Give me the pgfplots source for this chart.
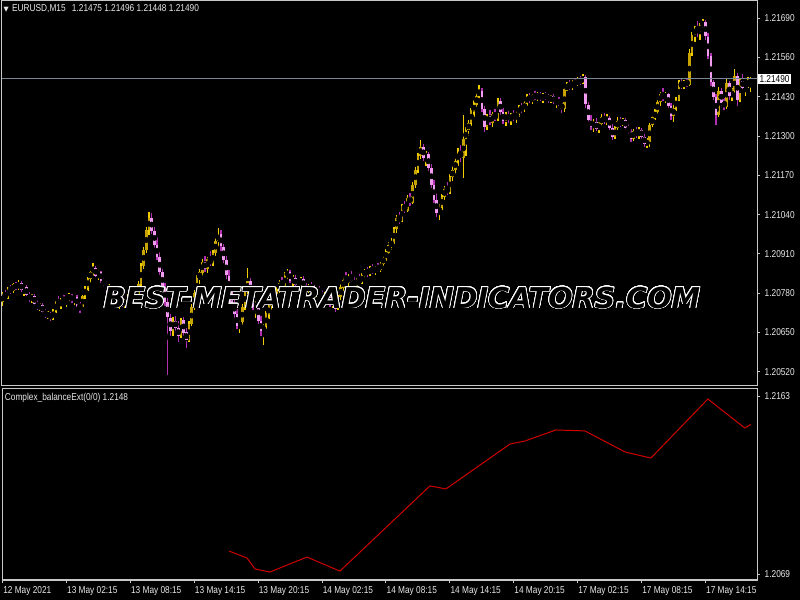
\documentclass[border=0pt]{standalone}
\usepackage{pgfplots}
\pgfplotsset{compat=1.18}
\usepackage{pgfplotstable}
\usepackage{fontspec}
\setmainfont{Liberation Sans}[FakeStretch=0.83]
\newfontfamily\wmfont{DejaVu Sans}
\newfontfamily\symfont{DejaVu Sans}
\usepackage[copies]{contour}
\contourlength{0.55pt}
\contournumber{32}
\definecolor{bullwick}{HTML}{F0CC00}
\definecolor{bulledge}{HTML}{C8A400}
\definecolor{bearwick}{HTML}{B030B0}
\definecolor{bearbody}{HTML}{F09AF0}
\definecolor{frame}{HTML}{C8C8C8}
\definecolor{txt}{HTML}{E8E8E8}
\definecolor{pline}{HTML}{7A8896}
\definecolor{ind}{HTML}{D00000}
\pgfplotstableread{
x o h l c
0 1.20752 1.20785 1.20740 1.20775
1 1.20775 1.20790 1.20760 1.20768
2 1.20768 1.20800 1.20762 1.20795
3 1.20795 1.20808 1.20780 1.20788
4 1.20788 1.20815 1.20782 1.20810
5 1.20810 1.20818 1.20792 1.20798
6 1.20798 1.20825 1.20790 1.20815
7 1.20815 1.20822 1.20785 1.20790
8 1.20790 1.20805 1.20772 1.20800
9 1.20800 1.20808 1.20770 1.20775
10 1.20775 1.20785 1.20752 1.20760
11 1.20760 1.20780 1.20750 1.20772
12 1.20772 1.20778 1.20738 1.20745
13 1.20745 1.20760 1.20725 1.20732
14 1.20732 1.20750 1.20722 1.20742
15 1.20742 1.20748 1.20712 1.20718
16 1.20718 1.20730 1.20700 1.20708
17 1.20708 1.20722 1.20695 1.20712
18 1.20712 1.20718 1.20690 1.20700
19 1.20700 1.20728 1.20694 1.20720
20 1.20720 1.20755 1.20715 1.20748
21 1.20748 1.20770 1.20735 1.20742
22 1.20742 1.20765 1.20728 1.20758
23 1.20758 1.20775 1.20745 1.20750
24 1.20750 1.20768 1.20735 1.20762
25 1.20762 1.20782 1.20755 1.20775
26 1.20775 1.20780 1.20748 1.20755
27 1.20755 1.20772 1.20742 1.20768
28 1.20768 1.20775 1.20735 1.20740
29 1.20740 1.20752 1.20715 1.20735
30 1.20735 1.20775 1.20730 1.20770
31 1.20770 1.20805 1.20762 1.20798
32 1.20798 1.20835 1.20790 1.20828
33 1.20828 1.20862 1.20815 1.20850
34 1.20850 1.20880 1.20838 1.20865
35 1.20865 1.20872 1.20835 1.20840
36 1.20840 1.20858 1.20825 1.20850
37 1.20850 1.20855 1.20815 1.20822
38 1.20822 1.20838 1.20800 1.20810
39 1.20810 1.20820 1.20785 1.20795
40 1.20795 1.20812 1.20780 1.20800
41 1.20800 1.20805 1.20765 1.20770
42 1.20770 1.20785 1.20752 1.20760
43 1.20760 1.20778 1.20740 1.20748
44 1.20748 1.20765 1.20728 1.20755
45 1.20755 1.20770 1.20735 1.20740
46 1.20740 1.20762 1.20730 1.20752
47 1.20752 1.20778 1.20745 1.20770
48 1.20770 1.20785 1.20752 1.20760
49 1.20760 1.20790 1.20755 1.20782
50 1.20782 1.20795 1.20765 1.20772
51 1.20772 1.20820 1.20768 1.20812
52 1.20812 1.20880 1.20805 1.20870
53 1.20870 1.20935 1.20860 1.20925
54 1.20925 1.21000 1.20915 1.20990
55 1.20990 1.21050 1.20975 1.21030
56 1.21030 1.21045 1.20975 1.20985
57 1.20985 1.21000 1.20930 1.20940
58 1.20940 1.20965 1.20890 1.20900
59 1.20900 1.20918 1.20840 1.20850
60 1.20850 1.20862 1.20790 1.20800
61 1.20800 1.20815 1.20740 1.20752
62 1.20752 1.20765 1.20509 1.20700
63 1.20700 1.20712 1.20640 1.20655
64 1.20655 1.20700 1.20640 1.20690
65 1.20690 1.20705 1.20650 1.20665
66 1.20665 1.20690 1.20620 1.20640
67 1.20640 1.20700 1.20632 1.20690
68 1.20690 1.20702 1.20640 1.20650
69 1.20650 1.20665 1.20600 1.20625
70 1.20625 1.20690 1.20618 1.20680
71 1.20680 1.20745 1.20672 1.20735
72 1.20735 1.20790 1.20725 1.20780
73 1.20780 1.20840 1.20770 1.20830
74 1.20830 1.20860 1.20810 1.20850
75 1.20850 1.20895 1.20840 1.20885
76 1.20885 1.20905 1.20850 1.20860
77 1.20860 1.20900 1.20848 1.20892
78 1.20892 1.20920 1.20870 1.20880
79 1.20880 1.20925 1.20872 1.20915
80 1.20915 1.20965 1.20905 1.20955
81 1.20955 1.20996 1.20935 1.20975
82 1.20975 1.20990 1.20920 1.20935
83 1.20935 1.20945 1.20880 1.20890
84 1.20890 1.20905 1.20830 1.20840
85 1.20840 1.20858 1.20775 1.20785
86 1.20785 1.20800 1.20735 1.20748
87 1.20748 1.20770 1.20700 1.20712
88 1.20712 1.20728 1.20660 1.20672
89 1.20672 1.20695 1.20648 1.20685
90 1.20685 1.20745 1.20675 1.20735
91 1.20735 1.20800 1.20725 1.20790
92 1.20790 1.20864 1.20780 1.20820
93 1.20820 1.20832 1.20770 1.20778
94 1.20778 1.20792 1.20725 1.20735
95 1.20735 1.20760 1.20700 1.20745
96 1.20745 1.20752 1.20680 1.20690
97 1.20690 1.20705 1.20640 1.20655
98 1.20655 1.20680 1.20609 1.20670
99 1.20670 1.20720 1.20660 1.20710
100 1.20710 1.20745 1.20695 1.20738
101 1.20738 1.20770 1.20725 1.20760
102 1.20760 1.20785 1.20740 1.20750
103 1.20750 1.20800 1.20745 1.20790
104 1.20790 1.20825 1.20780 1.20815
105 1.20815 1.20835 1.20795 1.20805
106 1.20805 1.20850 1.20800 1.20840
107 1.20840 1.20860 1.20825 1.20850
108 1.20850 1.20858 1.20815 1.20822
109 1.20822 1.20840 1.20805 1.20830
110 1.20830 1.20842 1.20800 1.20808
111 1.20808 1.20825 1.20790 1.20815
112 1.20815 1.20835 1.20805 1.20828
113 1.20828 1.20838 1.20795 1.20800
114 1.20800 1.20815 1.20780 1.20788
115 1.20788 1.20812 1.20782 1.20805
116 1.20805 1.20818 1.20785 1.20792
117 1.20792 1.20808 1.20770 1.20775
118 1.20775 1.20798 1.20768 1.20790
119 1.20790 1.20805 1.20775 1.20780
120 1.20780 1.20792 1.20755 1.20762
121 1.20762 1.20785 1.20752 1.20778
122 1.20778 1.20790 1.20760 1.20768
123 1.20768 1.20775 1.20735 1.20742
124 1.20742 1.20765 1.20730 1.20758
125 1.20758 1.20765 1.20720 1.20730
126 1.20730 1.20775 1.20725 1.20768
127 1.20768 1.20810 1.20760 1.20800
128 1.20800 1.20835 1.20790 1.20825
129 1.20825 1.20850 1.20810 1.20815
130 1.20815 1.20845 1.20805 1.20838
131 1.20838 1.20855 1.20815 1.20822
132 1.20822 1.20835 1.20795 1.20805
133 1.20805 1.20830 1.20798 1.20825
134 1.20825 1.20842 1.20812 1.20818
135 1.20818 1.20848 1.20810 1.20840
136 1.20840 1.20862 1.20830 1.20855
137 1.20855 1.20868 1.20835 1.20845
138 1.20845 1.20870 1.20838 1.20862
139 1.20862 1.20878 1.20845 1.20852
140 1.20852 1.20872 1.20842 1.20865
141 1.20865 1.20880 1.20850 1.20858
142 1.20858 1.20885 1.20852 1.20878
143 1.20878 1.20905 1.20870 1.20898
144 1.20898 1.20925 1.20885 1.20915
145 1.20915 1.20950 1.20905 1.20940
146 1.20940 1.20962 1.20925 1.20950
147 1.20950 1.21000 1.20945 1.20992
148 1.20992 1.21040 1.20980 1.21030
149 1.21030 1.21050 1.21010 1.21020
150 1.21020 1.21075 1.21015 1.21068
151 1.21068 1.21085 1.21045 1.21055
152 1.21055 1.21105 1.21050 1.21098
153 1.21098 1.21112 1.21070 1.21080
154 1.21080 1.21150 1.21075 1.21140
155 1.21140 1.21200 1.21130 1.21190
156 1.21190 1.21245 1.21180 1.21235
157 1.21235 1.21287 1.21225 1.21265
158 1.21265 1.21275 1.21220 1.21230
159 1.21230 1.21250 1.21200 1.21240
160 1.21240 1.21248 1.21185 1.21195
161 1.21195 1.21210 1.21130 1.21140
162 1.21140 1.21155 1.21080 1.21090
163 1.21090 1.21112 1.21035 1.21048
164 1.21048 1.21075 1.21023 1.21065
165 1.21065 1.21110 1.21058 1.21100
166 1.21100 1.21135 1.21090 1.21125
167 1.21125 1.21150 1.21105 1.21115
168 1.21115 1.21175 1.21108 1.21165
169 1.21165 1.21200 1.21150 1.21190
170 1.21190 1.21230 1.21175 1.21220
171 1.21220 1.21260 1.21200 1.21245
172 1.21245 1.21270 1.21215 1.21230
173 1.21230 1.21370 1.21162 1.21290
174 1.21290 1.21330 1.21235 1.21320
175 1.21320 1.21355 1.21300 1.21345
176 1.21345 1.21395 1.21335 1.21385
177 1.21385 1.21420 1.21365 1.21405
178 1.21405 1.21445 1.21395 1.21435
179 1.21435 1.21470 1.21420 1.21450
180 1.21450 1.21458 1.21380 1.21390
181 1.21390 1.21400 1.21314 1.21330
182 1.21330 1.21375 1.21320 1.21365
183 1.21365 1.21385 1.21335 1.21345
184 1.21345 1.21380 1.21330 1.21372
185 1.21372 1.21390 1.21350 1.21358
186 1.21358 1.21427 1.21352 1.21415
187 1.21415 1.21425 1.21370 1.21380
188 1.21380 1.21395 1.21340 1.21350
189 1.21350 1.21380 1.21335 1.21372
190 1.21372 1.21385 1.21345 1.21355
191 1.21355 1.21378 1.21338 1.21370
192 1.21370 1.21388 1.21350 1.21360
193 1.21360 1.21385 1.21345 1.21378
194 1.21378 1.21405 1.21365 1.21395
195 1.21395 1.21410 1.21378 1.21388
196 1.21388 1.21418 1.21380 1.21410
197 1.21410 1.21440 1.21400 1.21432
198 1.21432 1.21445 1.21410 1.21418
199 1.21418 1.21440 1.21405 1.21435
200 1.21435 1.21448 1.21420 1.21428
201 1.21428 1.21445 1.21415 1.21438
202 1.21438 1.21446 1.21418 1.21425
203 1.21425 1.21442 1.21412 1.21436
204 1.21436 1.21445 1.21420 1.21430
205 1.21430 1.21440 1.21412 1.21420
206 1.21420 1.21438 1.21410 1.21432
207 1.21432 1.21440 1.21405 1.21412
208 1.21412 1.21428 1.21395 1.21420
209 1.21420 1.21430 1.21400 1.21408
210 1.21408 1.21416 1.21377 1.21390
211 1.21390 1.21463 1.21380 1.21455
212 1.21455 1.21478 1.21448 1.21470
213 1.21470 1.21488 1.21455 1.21462
214 1.21462 1.21485 1.21453 1.21478
215 1.21478 1.21492 1.21465 1.21472
216 1.21472 1.21495 1.21466 1.21488
217 1.21488 1.21500 1.21470 1.21480
218 1.21480 1.21505 1.21474 1.21495
219 1.21495 1.21502 1.21395 1.21405
220 1.21405 1.21412 1.21345 1.21355
221 1.21355 1.21370 1.21320 1.21330
222 1.21330 1.21355 1.21315 1.21345
223 1.21345 1.21360 1.21318 1.21325
224 1.21325 1.21348 1.21312 1.21340
225 1.21340 1.21375 1.21332 1.21365
226 1.21365 1.21378 1.21340 1.21350
227 1.21350 1.21372 1.21338 1.21362
228 1.21362 1.21368 1.21320 1.21328
229 1.21328 1.21340 1.21288 1.21298
230 1.21298 1.21335 1.21292 1.21328
231 1.21328 1.21362 1.21320 1.21350
232 1.21350 1.21365 1.21330 1.21340
233 1.21340 1.21362 1.21335 1.21355
234 1.21355 1.21360 1.21320 1.21328
235 1.21328 1.21345 1.21305 1.21315
236 1.21315 1.21325 1.21282 1.21292
237 1.21292 1.21325 1.21285 1.21318
238 1.21318 1.21332 1.21295 1.21305
239 1.21305 1.21330 1.21290 1.21322
240 1.21322 1.21328 1.21290 1.21298
241 1.21298 1.21310 1.21265 1.21275
242 1.21275 1.21295 1.21262 1.21282
243 1.21282 1.21345 1.21265 1.21338
244 1.21338 1.21372 1.21330 1.21365
245 1.21365 1.21388 1.21352 1.21380
246 1.21380 1.21420 1.21372 1.21412
247 1.21412 1.21445 1.21400 1.21438
248 1.21438 1.21460 1.21415 1.21425
249 1.21425 1.21448 1.21410 1.21440
250 1.21440 1.21445 1.21395 1.21400
251 1.21400 1.21412 1.21355 1.21368
252 1.21368 1.21405 1.21345 1.21395
253 1.21395 1.21430 1.21385 1.21420
254 1.21420 1.21486 1.21415 1.21475
255 1.21475 1.21490 1.21455 1.21465
256 1.21465 1.21488 1.21458 1.21480
257 1.21480 1.21492 1.21462 1.21470
258 1.21470 1.21590 1.21465 1.21575
259 1.21575 1.21645 1.21565 1.21635
260 1.21635 1.21665 1.21612 1.21655
261 1.21655 1.21682 1.21630 1.21645
262 1.21645 1.21675 1.21620 1.21668
263 1.21668 1.21688 1.21650 1.21678
264 1.21678 1.21686 1.21620 1.21630
265 1.21630 1.21640 1.21555 1.21565
266 1.21565 1.21575 1.21465 1.21478
267 1.21478 1.21485 1.21420 1.21430
268 1.21430 1.21440 1.21337 1.21372
269 1.21372 1.21462 1.21365 1.21450
270 1.21450 1.21460 1.21400 1.21410
271 1.21410 1.21428 1.21388 1.21398
272 1.21398 1.21490 1.21392 1.21478
273 1.21478 1.21482 1.21420 1.21432
274 1.21432 1.21460 1.21415 1.21448
275 1.21448 1.21525 1.21440 1.21500
276 1.21500 1.21510 1.21400 1.21420
277 1.21420 1.21490 1.21412 1.21485
278 1.21485 1.21505 1.21455 1.21462
279 1.21462 1.21478 1.21432 1.21470
280 1.21470 1.21495 1.21460 1.21475
281 1.21475 1.21496 1.21448 1.21490
}\candles
\pgfplotsset{
  mt/.style={scale only axis, width=566.25pt, xmin=-0.23, xmax=283.35,
    anchor=south west,
    axis line style={frame, line width=0.75pt},
    tick style={frame, line width=0.75pt},
    tick align=outside, major tick length=2.25pt,
    ytick pos=right, yticklabel pos=right,
    ticklabel style={font=\fontsize{7.5}{8}\selectfont, text=txt},
    /pgf/number format/assume math mode=true,
    scaled y ticks=false, clip mode=individual},
  wick/.style={only marks, mark=none, forget plot,
    error bars/.cd, y dir=both, y explicit, error mark=none,
    error bar style={line width=1.05pt, #1}},
  body/.style={only marks, mark=none, forget plot,
    error bars/.cd, y dir=both, y explicit, error mark=none,
    error bar style={line width=1.95pt, #1}},
}
\begin{document}
\begin{tikzpicture}
\fill[black] (0,0) rectangle (600pt,450pt);
% main price panel
\begin{axis}[mt, at={(1.5pt,160.5pt)}, height=288.75pt,
  ymin=1.20473, ymax=1.21747, xtick=\empty,
  ytick={1.2052,1.2065,1.2078,1.2091,1.2104,1.2117,1.2130,1.2143,1.2156,1.2169},
  yticklabel style={/pgf/number format/.cd, fixed, fixed zerofill, precision=5}]
% bull candles
\addplot[wick=bullwick] table[x=x,
  y expr={\thisrow{c}>=\thisrow{o} ? (\thisrow{h}+\thisrow{l})/2 : nan},
  y error expr={(\thisrow{h}-\thisrow{l})/2}] {\candles};
\addplot[body=bulledge] table[x=x,
  y expr={\thisrow{c}>=\thisrow{o} ? (\thisrow{o}+\thisrow{c})/2 : nan},
  y error expr={max(abs(\thisrow{c}-\thisrow{o})/2,0.00002)}] {\candles};
% bear candles
\addplot[wick=bearwick] table[x=x,
  y expr={\thisrow{c}<\thisrow{o} ? (\thisrow{h}+\thisrow{l})/2 : nan},
  y error expr={(\thisrow{h}-\thisrow{l})/2}] {\candles};
\addplot[body=bearbody] table[x=x,
  y expr={\thisrow{c}<\thisrow{o} ? (\thisrow{o}+\thisrow{c})/2 : nan},
  y error expr={max(abs(\thisrow{c}-\thisrow{o})/2,0.00002)}] {\candles};
% bid line
\addplot[pline, line width=0.75pt, forget plot] coordinates {(-1,1.21490) (290,1.21490)};
\node[anchor=west, fill=white, text=black, inner sep=1.2pt, xshift=0.5pt,
  font=\fontsize{7.5}{8}\selectfont] at ({rel axis cs:1,0} |- {axis cs:0,1.21490}) {1.21490};
\end{axis}
% indicator panel
\begin{axis}[mt, at={(1.5pt,15pt)}, height=143.25pt,
  ymin=1.20660, ymax=1.21667, ytick={1.2069,1.2163},
  yticklabel style={/pgf/number format/.cd, fixed, fixed zerofill, precision=4},
  xtick={0,24,48,72,96,120,144,168,192,216,240,264},
  xtick pos=left, xticklabel pos=left,
  xticklabels={12 May 2021,13 May 02:15,13 May 08:15,13 May 14:15,13 May 20:15,14 May 02:15,14 May 08:15,14 May 14:15,14 May 20:15,17 May 02:15,17 May 08:15,17 May 14:15},
  xticklabel style={anchor=north west, inner sep=0pt, xshift=0.3pt, yshift=-2.5pt}]
\addplot[ind, line width=0.75pt] coordinates {
(85.0,1.20813) (91.8,1.20776) (94.8,1.20718) (100.4,1.20702) (114.3,1.20781)
(126.7,1.20707) (160.5,1.21156) (166.5,1.21140) (190.6,1.21377) (196.2,1.21393)
(207.8,1.21451) (218.7,1.21446) (233.8,1.21335) (243.5,1.21303) (264.9,1.21614)
(278.8,1.21461) (281,1.21480)};
\end{axis}
% titles
\node[anchor=west, inner sep=0pt, text=txt, font=\fontsize{7.5}{8}\selectfont] at (2.6pt,443.5pt)
  {{\symfont\fontsize{5}{5}\selectfont ▼}\hspace{2.5pt}EURUSD,M15\hspace{3pt} 1.21475 1.21496 1.21448 1.21490};
\node[anchor=west, inner sep=0pt, text=txt, font=\fontsize{7.5}{8}\selectfont] at (3.5pt,151.5pt)
  {Complex\_balanceExt(0/0) 1.2148};
% watermark
\node[text=black, inner sep=0pt, font=\wmfont\bfseries\itshape\fontsize{21.5}{22}\selectfont] at (301.5pt,226.5pt)
  {\contour{white}{BEST-METATRADER-INDICATORS.COM}};
\pgfresetboundingbox
\path[use as bounding box] (0,0) rectangle (600pt,450pt);
\end{tikzpicture}
\end{document}
